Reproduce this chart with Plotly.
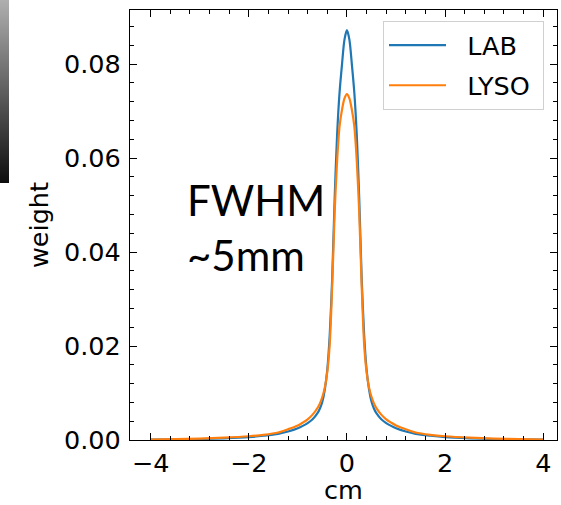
import base64
import struct
import zlib
import plotly.graph_objects as go

# ---- data ----
x_cm = [-4.0, -3.5, -3.0, -2.5, -2.0, -1.7, -1.4, -1.2, -1.0, -0.9, -0.8, -0.7, -0.6, -0.55, -0.5,
        -0.45, -0.4, -0.35, -0.3, -0.25, -0.2, -0.15, -0.1, -0.05, 0.0, 0.05, 0.1, 0.15, 0.2, 0.25,
        0.3, 0.35, 0.4, 0.45, 0.5, 0.55, 0.6, 0.7, 0.8, 0.9, 1.0, 1.2, 1.4, 1.7, 2.0, 2.5, 3.0, 3.5, 4.0]
lab_weight = [0.00008, 0.00012, 0.0002, 0.00035, 0.0006, 0.0009, 0.0013, 0.0018, 0.0025, 0.0030,
              0.0036, 0.0044, 0.0057, 0.0067, 0.0082, 0.0108, 0.0150, 0.0225, 0.0345, 0.0515,
              0.0650, 0.0740, 0.0800, 0.0852, 0.0872, 0.0852, 0.0800, 0.0740, 0.0650, 0.0515,
              0.0345, 0.0225, 0.0150, 0.0108, 0.0082, 0.0067, 0.0057, 0.0044, 0.0036, 0.0030,
              0.0025, 0.0018, 0.0013, 0.0009, 0.0006, 0.00035, 0.0002, 0.00012, 0.00008]
lyso_weight = [0.0001, 0.0002, 0.0003, 0.0005, 0.0008, 0.0011, 0.0016, 0.0023, 0.0031, 0.0037,
               0.0044, 0.0054, 0.0068, 0.0078, 0.0092, 0.0112, 0.0145, 0.0205, 0.0330, 0.0485,
               0.0595, 0.0668, 0.0703, 0.0727, 0.0736, 0.0727, 0.0703, 0.0668, 0.0595, 0.0485,
               0.0330, 0.0205, 0.0145, 0.0112, 0.0092, 0.0078, 0.0068, 0.0054, 0.0044, 0.0037,
               0.0031, 0.0023, 0.0016, 0.0011, 0.0008, 0.0005, 0.0003, 0.0002, 0.0001]
series_names = ["LAB", "LYSO"]
x_ticks = [-4, -2, 0, 2, 4]
y_ticks = [0.00, 0.02, 0.04, 0.06, 0.08]

W, H = 561, 505
ML, MR, MT, MB = 130, 4, 10, 65
PW, PH = W - ML - MR, H - MT - MB


# ---- small grayscale strip (cropped colour bar at the left edge) ----
def gray_png(levels):
    raw = b"".join(b"\x00" + bytes([v]) for v in levels)

    def chunk(t, d):
        return struct.pack(">I", len(d)) + t + d + struct.pack(">I", zlib.crc32(t + d) & 0xFFFFFFFF)

    png = (b"\x89PNG\r\n\x1a\n"
           + chunk(b"IHDR", struct.pack(">IIBBBBB", 1, len(levels), 8, 0, 0, 0, 0))
           + chunk(b"IDAT", zlib.compress(raw))
           + chunk(b"IEND", b""))
    return "data:image/png;base64," + base64.b64encode(png).decode()


strip_h = 183
levels = [int(round(175 - (175 - 14) * i / (strip_h - 1))) for i in range(strip_h)]

font_main = "DejaVu Sans"
FS = 25.5
blue = "#1f77b4"
orange = "#ff7f0e"
NB = "\u00a0"

fig = go.Figure()
fig.add_trace(go.Scatter(x=x_cm, y=lab_weight, mode="lines", name=NB * 2 + series_names[0] + NB,
                         line=dict(color=blue, width=2.2, shape="spline", smoothing=0.8),
                         legendgroup="a"))
fig.add_trace(go.Scatter(x=x_cm, y=lyso_weight, mode="lines", name=NB * 2 + series_names[1] + NB,
                         line=dict(color=orange, width=2.2, shape="spline", smoothing=0.8),
                         legendgroup="b"))

axis_common = dict(
    showgrid=False, zeroline=False, showline=True, linecolor="black", linewidth=1.3,
    mirror="allticks", ticks="inside", ticklen=7, tickwidth=1.3, tickcolor="black",
    tickfont=dict(family=font_main, size=FS, color="black"), automargin=False,
)

fig.update_xaxes(
    range=[-4.42, 4.28], tickvals=x_ticks, ticktext=["\u22124", "\u22122", "0", "2", "4"],
    minor=dict(ticks="inside", dtick=0.4, tick0=0, ticklen=3.5, tickwidth=1, tickcolor="black"),
    title=dict(text="cm", font=dict(family=font_main, size=FS, color="black"), standoff=9),
    ticklabelstandoff=0,
    **axis_common,
)
fig.update_yaxes(
    range=[0, 0.0915], tickvals=y_ticks, ticktext=[f"{v:.2f}" for v in y_ticks],
    minor=dict(ticks="inside", dtick=0.004, tick0=0, ticklen=3.5, tickwidth=1, tickcolor="black"),
    title=dict(text="weight", font=dict(family=font_main, size=FS, color="black"), standoff=8),
    ticklabelstandoff=3,
    **axis_common,
)

fig.add_annotation(
    xref="paper", yref="paper", x=(185 - ML) / PW, y=(MT + PH - 227) / PH,
    xanchor="left", yanchor="middle", align="left", showarrow=False,
    text="FWHM<br>~5mm", font=dict(family="Lato", size=42, color="black"),
)

fig.add_layout_image(
    source=gray_png(levels), xref="paper", yref="paper",
    x=-ML / PW, y=(PH + MT) / PH, sizex=9 / PW, sizey=strip_h / PH,
    xanchor="left", yanchor="top", sizing="stretch", layer="above",
)

fig.update_layout(
    width=W, height=H, margin=dict(l=ML, r=MR, t=MT, b=MB, pad=0, autoexpand=False),
    paper_bgcolor="white", plot_bgcolor="white",
    legend=dict(
        x=(383 - ML) / PW, y=(MT + PH - 21) / PH, xanchor="left", yanchor="top",
        bgcolor="rgba(255,255,255,0.8)", bordercolor="#d0d0d0", borderwidth=1,
        font=dict(family=font_main, size=FS, color="black"),
        tracegroupgap=4, itemwidth=57, traceorder="grouped",
    ),
    font=dict(family=font_main, color="black"),
)

fig.write_html("out.html")
